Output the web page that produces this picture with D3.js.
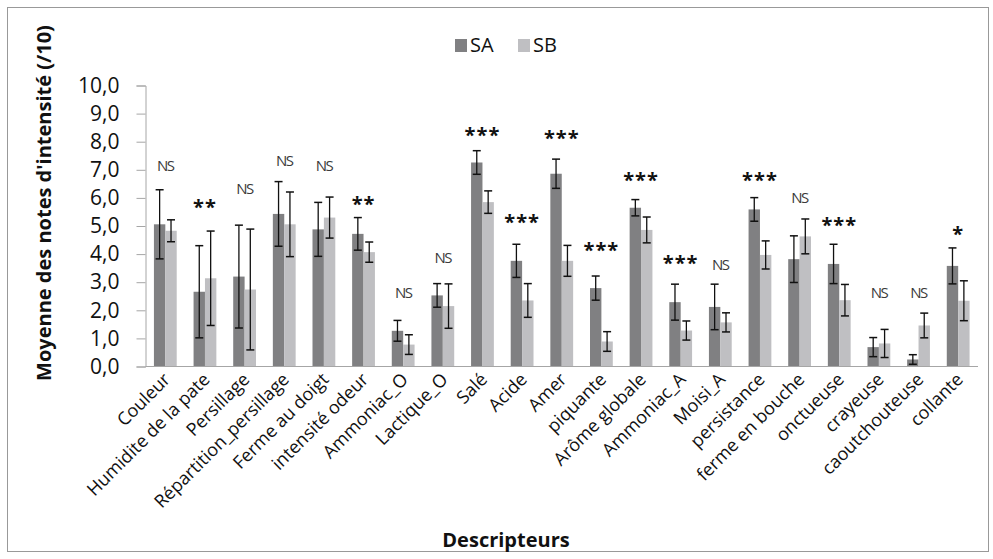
<!DOCTYPE html>
<html><head><meta charset="utf-8">
<script src="https://cdn.jsdelivr.net/npm/d3@7"></script>
<style>body{margin:0;background:#fff;} text{font-family:"Open Sans",sans-serif;}</style>
</head><body>
<svg id="c" width="993" height="559"></svg>
<script>
const categories = ["Couleur","Humidite de la pate","Persillage","Répartition_persillage","Ferme au doigt","intensité odeur","Ammoniac_O","Lactique_O","Salé","Acide","Amer","piquante","Arôme globale","Ammoniac_A","Moisi_A","persistance","ferme en bouche","onctueuse","crayeuse","caoutchouteuse","collante"];
const seriesNames = ["SA","SB"];
const saValues = [5.06,2.66,3.20,5.43,4.88,4.72,1.27,2.53,7.26,3.76,6.86,2.79,5.65,2.29,2.12,5.59,3.82,3.65,0.69,0.25,3.58];
const saErrors = [1.23,1.64,1.83,1.15,0.96,0.58,0.37,0.42,0.42,0.59,0.52,0.43,0.29,0.64,0.81,0.42,0.83,0.70,0.34,0.17,0.64];
const sbValues = [4.83,3.14,2.74,5.06,5.30,4.07,0.78,2.15,5.85,2.35,3.76,0.89,4.86,1.28,1.57,3.97,4.63,2.36,0.82,1.46,2.34];
const sbErrors = [0.39,1.68,2.15,1.15,0.73,0.36,0.35,0.79,0.40,0.60,0.55,0.35,0.46,0.34,0.34,0.50,0.62,0.56,0.50,0.44,0.71];
const sigLabels = ["NS","**","NS","NS","NS","**","NS","NS","***","***","***","***","***","***","NS","***","NS","***","NS","NS","*"];
const sigHeights = [7.15,5.94,6.33,7.33,7.15,6.05,2.63,3.88,8.5,5.41,8.4,4.41,6.9,3.95,3.63,6.9,6.01,5.30,2.63,2.63,4.98];
const yTicks = [0,1,2,3,4,5,6,7,8,9,10];

(function(){
const svg = d3.select("#c");
const colors = {SA:"#808082", SB:"#bfbfc2"};
const axisColor = "#a6a6a6";

svg.append("rect").attr("x",7.5).attr("y",7.5).attr("width",981).attr("height",544)
  .attr("fill","none").attr("stroke","#999").attr("stroke-width",1);

const pL=145.5, pR=978, pT=85.5, pB=366.5;
const x = d3.scaleBand().domain(categories).range([pL,pR]).paddingInner(0.425).paddingOuter(0.2125);
const xs = d3.scaleBand().domain(seriesNames).range([0,x.bandwidth()]);
const y = d3.scaleLinear().domain([0,10]).range([pB,pT]);

const yAxis = svg.append("g").attr("transform",`translate(${pL},0)`)
  .call(d3.axisLeft(y).tickValues(yTicks).tickSize(9).tickPadding(17).tickFormat(d=>d3.format(".1f")(d).replace(".",",")));
yAxis.select(".domain").attr("stroke",axisColor);
yAxis.selectAll(".tick line").attr("stroke",axisColor);
yAxis.selectAll("text").attr("font-size",21).attr("fill","#111").style("font-family","Open Sans");

const data = categories.map((c,i)=>({c,i,vals:[
  {s:"SA",v:saValues[i],e:saErrors[i]},
  {s:"SB",v:sbValues[i],e:sbErrors[i]}]}));

const g = svg.append("g");
const groups = g.selectAll("g.grp").data(data).join("g").attr("class","grp")
  .attr("transform",d=>`translate(${x(d.c)},0)`);
groups.selectAll("rect").data(d=>d.vals).join("rect")
  .attr("x",d=>xs(d.s)).attr("width",xs.bandwidth())
  .attr("y",d=>y(d.v)).attr("height",d=>y(0)-y(d.v))
  .attr("fill",d=>colors[d.s]);

const eb = groups.selectAll("g.eb").data(d=>d.vals).join("g").attr("class","eb");
const cap = 4;
const cx = d=>xs(d.s)+xs.bandwidth()/2;
eb.append("line").attr("x1",cx).attr("x2",cx)
  .attr("y1",d=>y(d.v+d.e)).attr("y2",d=>y(Math.max(0,d.v-d.e))).attr("stroke","#111").attr("stroke-width",1.3);
eb.append("line").attr("x1",d=>cx(d)-cap).attr("x2",d=>cx(d)+cap)
  .attr("y1",d=>y(d.v+d.e)).attr("y2",d=>y(d.v+d.e)).attr("stroke","#111").attr("stroke-width",1.5);
eb.append("line").attr("x1",d=>cx(d)-cap).attr("x2",d=>cx(d)+cap)
  .attr("y1",d=>y(Math.max(0,d.v-d.e))).attr("y2",d=>y(Math.max(0,d.v-d.e))).attr("stroke","#111").attr("stroke-width",1.5);

svg.append("line").attr("x1",pL).attr("x2",pR).attr("y1",pB).attr("y2",pB).attr("stroke",axisColor);

svg.selectAll("text.sig").data(categories).join("text").attr("class","sig")
  .attr("x",c=>x(c)+x.bandwidth()/2)
  .attr("y",(c,i)=>y(sigHeights[i]))
  .attr("text-anchor","middle")
  .attr("dy",(c,i)=>sigLabels[i]==="NS"?"0.36em":"0.72em")
  .attr("font-size",(c,i)=>sigLabels[i]==="NS"?15:20)
  .attr("font-weight",(c,i)=>sigLabels[i]==="NS"?"normal":"bold")
  .attr("letter-spacing",(c,i)=>sigLabels[i]==="NS"?"-1.5px":"1px")
  .attr("fill",(c,i)=>sigLabels[i]==="NS"?"#3a3a3a":"#111")
  .text((c,i)=>sigLabels[i]);

svg.selectAll("text.xl").data(categories).join("text").attr("class","xl")
  .attr("transform",c=>`translate(${x(c)+x.bandwidth()/2+6},${pB+14}) rotate(-45)`)
  .attr("text-anchor","end").attr("font-size",18).attr("fill","#111")
  .text(c=>c);

svg.append("text").attr("x",506).attr("y",547).attr("text-anchor","middle")
  .attr("font-size",20).attr("font-weight","bold").attr("fill","#111").text("Descripteurs");
svg.append("text").attr("transform","translate(51,203) rotate(-90)").attr("text-anchor","middle")
  .attr("font-size",20).attr("font-weight","bold").attr("fill","#111").text("Moyenne des notes d'intensité (/10)");

const leg = svg.append("g").selectAll("g").data(seriesNames).join("g")
  .attr("transform",(d,i)=>`translate(${455+i*63},39)`);
leg.append("rect").attr("width",12).attr("height",13).attr("fill",d=>colors[d]);
leg.append("text").attr("x",15).attr("y",13).attr("font-size",20).attr("fill","#111").text(d=>d);
})();
</script>
</body></html>
